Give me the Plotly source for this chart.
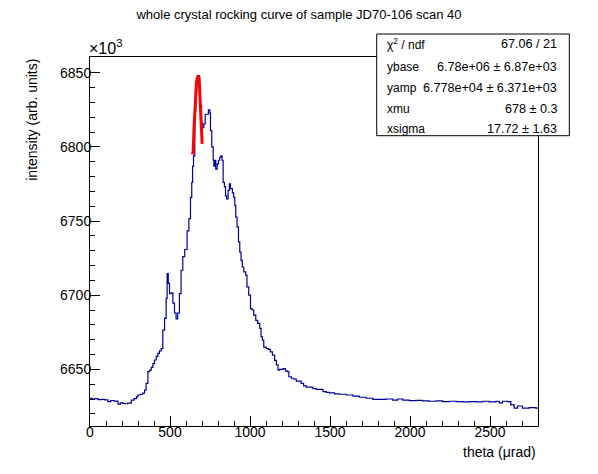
import plotly.graph_objects as go

# measured rocking curve (intensity in units of 10^3)
theta = [0, 15, 30, 50, 70, 90, 112, 130, 150, 175, 190, 205, 216, 235, 258, 275, 290, 299,
         315, 330, 341, 351, 362, 372, 383, 393, 403, 414, 424, 434, 445, 455, 466, 476, 482,
         489, 497, 507, 518, 528, 538, 548, 559, 569, 580, 592, 607, 618, 628, 636, 641, 647,
         655, 661, 667, 676, 682, 686, 690, 697, 701, 711, 720, 730, 740, 749, 753, 761, 770,
         774, 780, 786, 795, 803, 811, 818, 825, 832, 840, 847, 854, 863, 871, 878, 890, 898,
         905, 911, 919, 928, 936, 944, 952, 961, 973, 981, 992, 1003, 1013, 1023, 1036, 1048,
         1061, 1069, 1077, 1086, 1102, 1115, 1127, 1140, 1154, 1165, 1175, 1185, 1206, 1221,
         1231, 1243, 1258, 1273, 1289, 1306, 1320, 1335, 1352, 1372, 1393, 1414, 1435, 1456,
         1477, 1497, 1528, 1560, 1601, 1643, 1684, 1726, 1768, 1809, 1851, 1892, 1923, 1955,
         1996, 2038, 2079, 2121, 2163, 2204, 2246, 2288, 2329, 2371, 2412, 2454, 2495, 2537,
         2558, 2578, 2609, 2630, 2651, 2672, 2703, 2745, 2786, 2800]
intensity = [6630.5, 6630.0, 6630.2, 6629.6, 6629.8, 6629.4, 6628.2, 6629.0, 6628.6, 6626.6,
             6627.4, 6627.0, 6626.8, 6627.2, 6629.3, 6630.3, 6631.5, 6632.7, 6633.2, 6634.0,
             6636.0, 6640.6, 6648.4, 6649.5, 6651.3, 6653.8, 6656.3, 6658.8, 6660.8, 6662.5,
             6664.0, 6676.4, 6684.3, 6697.8, 6714.6, 6708.0, 6701.0, 6701.5, 6694.6, 6688.0,
             6684.0, 6688.0, 6701.0, 6716.8, 6726.0, 6730.8, 6743.3, 6751.6, 6766.0, 6776.0,
             6786.8, 6794.0, 6824.5, 6836.8, 6845.8, 6848.0, 6847.5, 6840.0, 6828.0, 6816.6,
             6813.0, 6815.5, 6822.0, 6822.0, 6825.0, 6823.0, 6811.0, 6800.0, 6791.0, 6787.0,
             6791.0, 6785.0, 6788.6, 6791.0, 6793.0, 6794.0, 6791.0, 6776.0, 6773.0, 6767.0,
             6765.0, 6770.7, 6775.0, 6771.8, 6769.0, 6766.0, 6760.5, 6752.7, 6746.0, 6736.0,
             6729.0, 6723.5, 6719.0, 6715.7, 6713.5, 6705.6, 6700.0, 6691.0, 6690.0, 6686.5,
             6683.0, 6681.0, 6677.6, 6672.0, 6669.7, 6665.0, 6664.0, 6663.5, 6661.8, 6659.6,
             6656.0, 6653.0, 6649.5, 6650.0, 6650.5, 6649.0, 6648.4, 6645.0, 6644.0, 6643.5,
             6642.0, 6642.0, 6640.6, 6638.8, 6638.0, 6638.0, 6637.0, 6636.5, 6636.5, 6635.0,
             6634.5, 6634.2, 6633.4, 6633.2, 6632.7, 6632.0, 6631.2, 6630.5, 6629.8, 6629.8,
             6630.0, 6629.3, 6630.0, 6629.3, 6628.9, 6629.1, 6628.7, 6628.5, 6628.7, 6628.3,
             6628.5, 6628.3, 6628.0, 6628.3, 6628.0, 6628.5, 6628.0, 6628.5, 6627.4, 6628.5,
             6628.2, 6626.0, 6623.8, 6625.3, 6623.8, 6624.2, 6623.8, 6623.8]

# gaussian fit over the peak
fit_theta = [640, 645, 650, 655, 660, 665, 670, 675, 680, 684, 688, 692, 696, 701]
fit_intensity = [6795, 6797, 6812, 6824, 6837, 6843, 6846, 6848, 6846, 6842, 6832, 6818,
                 6808, 6802]

stat_names = ["χ<sup>2</sup> / ndf", "ybase", "yamp", "xmu", "xsigma"]
stat_values = ["67.06 / 21", "6.78e+06 ± 6.87e+03", "6.778e+04 ± 6.371e+03",
               "678 ± 0.3", "17.72 ± 1.63"]

FONT = "Liberation Sans, Arial, Helvetica, sans-serif"

fig = go.Figure()
fig.add_trace(go.Scatter(x=theta, y=intensity, mode="lines", line_shape="hv",
                         line=dict(color="#00009c", width=1.2), showlegend=False))
fig.add_trace(go.Scatter(x=fit_theta, y=fit_intensity, mode="lines",
                         line=dict(color="#ff0000", width=3), showlegend=False))

axis_common = dict(showgrid=False, zeroline=False, showline=True, mirror=True,
                   linecolor="black", linewidth=1, ticks="inside", ticklen=10,
                   tickcolor="black", tickfont=dict(size=14, color="black", family=FONT))

fig.update_xaxes(range=[0, 2800], dtick=500, tick0=0, ticklabelstandoff=-7,
                 minor=dict(dtick=100, ticks="inside", ticklen=5, tickcolor="black"),
                 **axis_common)
fig.update_yaxes(range=[6611.8, 6860.6], dtick=50, tick0=6600, ticklabelstandoff=-5,
                 minor=dict(dtick=10, ticks="inside", ticklen=5, tickcolor="black"),
                 **axis_common)

# stats box
fig.add_shape(type="rect", xref="paper", yref="paper", x0=0.640, x1=1.0699, y0=0.7867,
              y1=1.0623, line=dict(color="black", width=1), fillcolor="white", layer="above")

row_y = [1.036, 0.9729, 0.916, 0.859, 0.805]
for name, val, yy in zip(stat_names, stat_values, row_y):
    fig.add_annotation(x=0.6585, y=yy, xref="paper", yref="paper", text=name,
                       showarrow=False, xanchor="left", yanchor="middle",
                       font=dict(size=12, family=FONT, color="black"))
    fig.add_annotation(x=1.0469, y=yy, xref="paper", yref="paper", text=val,
                       showarrow=False, xanchor="right", yanchor="middle",
                       font=dict(size=12.6, family=FONT, color="black"))

fig.add_annotation(text="×10<sup>3</sup>", x=-0.006, y=0.994, xref="paper", yref="paper",
                   xanchor="left", yanchor="bottom", showarrow=False,
                   font=dict(size=16, family=FONT, color="black"))
fig.add_annotation(text="intensity (arb. units)", x=-0.13, y=1.0, xref="paper",
                   yref="paper", xanchor="center", yanchor="top", textangle=-90,
                   showarrow=False, font=dict(size=14, family=FONT, color="black"))
fig.add_annotation(text="theta (μrad)", x=1.0, y=-0.0705, xref="paper", yref="paper",
                   xanchor="right", yanchor="middle", showarrow=False,
                   font=dict(size=14, family=FONT, color="black"))

# page body adds 8px offset, so figure is 8px smaller than the window
fig.update_layout(
    width=590, height=466,
    margin=dict(l=82, r=60, t=49, b=48),
    paper_bgcolor="white", plot_bgcolor="white",
    font=dict(family=FONT, color="black"),
    title=dict(text="whole crystal rocking curve of sample JD70-106 scan 40",
               x=0.4932, xanchor="center", y=0.987, yanchor="middle",
               font=dict(size=13, family=FONT, color="black")),
)

fig.write_html("out.html")
